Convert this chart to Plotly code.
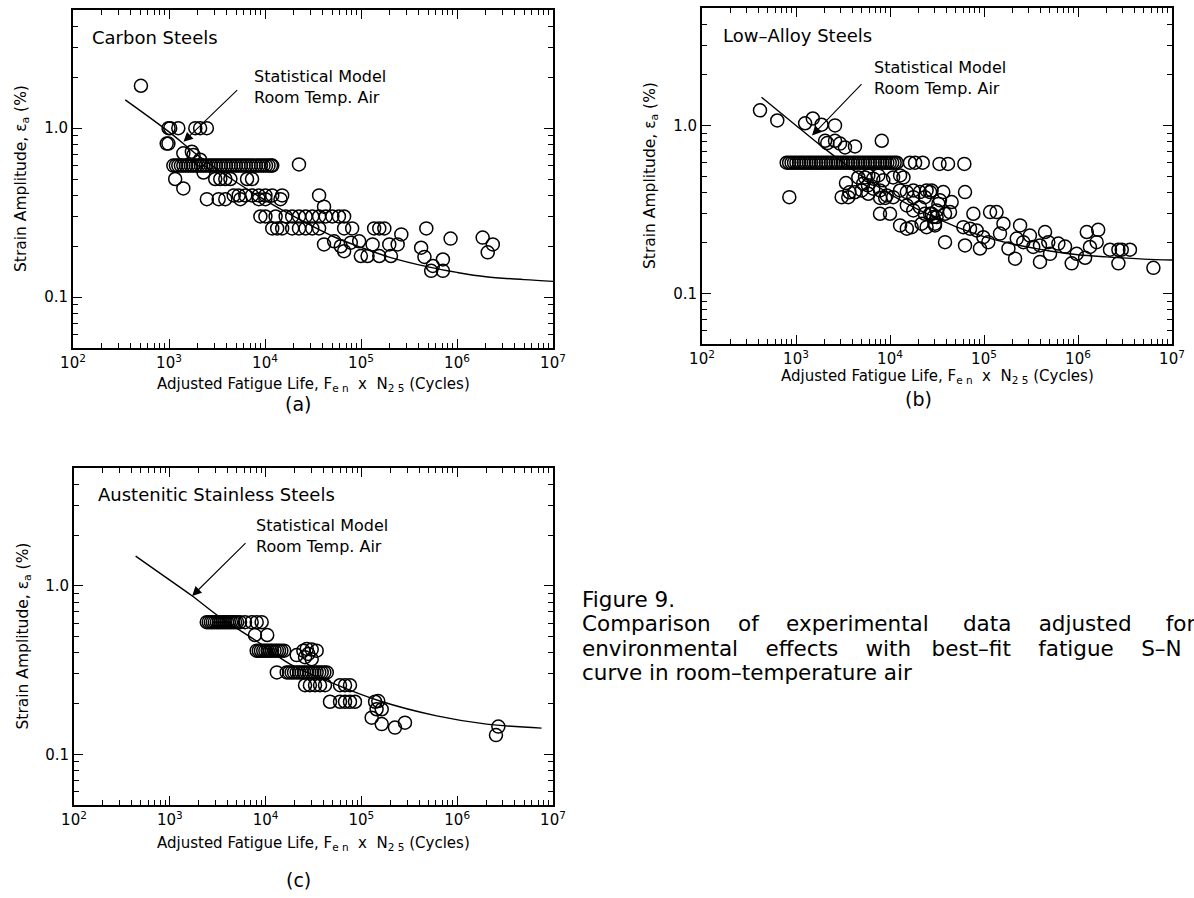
import math
import plotly.graph_objects as go

FONT = "DejaVu Sans"

# ---------------- data ----------------
# (a) Carbon steels: adjusted fatigue life (cycles) and strain amplitude (%)
carbon_N = [
    510,
    990, 1030, 1250, 1880, 2110, 2480,
    946, 986, 1410, 1730, 1800, 2110,
    1110, 1180, 1250, 1330, 1410, 1500, 1590, 1690, 1790, 1900,
    2020, 2150, 2280, 2420, 2570, 2730, 2900, 3080, 3270, 3470,
    3690, 3920, 4160, 4420, 4690, 4980, 5290, 5620, 5970, 6340,
    6730, 7150, 7590, 8060, 8560, 9090, 9650, 10250, 10880, 11550,
    11900, 22600,
    2290, 1160, 1410,
    3030, 3420, 3860, 4360, 6500, 7330,
    4720, 5320, 6240, 7330, 8610, 10100, 11900, 15100, 36600,
    2480, 3290, 3860, 5540, 8610, 10100, 14500, 41200,
    8950, 10100, 12900, 16400, 19200, 22600, 26500, 31100, 36600, 42900, 50300, 58900, 66700,
    11900, 13400, 15100, 19200, 22600, 26500, 31100, 36600, 66700, 80900, 137000, 155000, 175000, 479000,
    263000, 41200, 52500, 61600, 66700, 78300, 95700, 99700,
    117000, 132000, 155000, 197000, 205000, 241000,
    423000, 458000, 560000, 713000, 538000, 713000,
    857000, 1850000, 2360000, 2090000,
]
carbon_strain = [
    1.78,
    1.0, 1.0, 1.0, 1.0, 1.0, 1.0,
    0.81, 0.81, 0.71, 0.725, 0.694, 0.65,
    0.6, 0.6, 0.6, 0.6, 0.6, 0.6, 0.6, 0.6, 0.6, 0.6,
    0.6, 0.6, 0.6, 0.6, 0.6, 0.6, 0.6, 0.6, 0.6, 0.6,
    0.6, 0.6, 0.6, 0.6, 0.6, 0.6, 0.6, 0.6, 0.6, 0.6,
    0.6, 0.6, 0.6, 0.6, 0.6, 0.6, 0.6, 0.6, 0.6, 0.6,
    0.6, 0.61,
    0.546, 0.50, 0.44,
    0.5, 0.5, 0.5, 0.5, 0.5, 0.5,
    0.4, 0.4, 0.4, 0.4, 0.4, 0.4, 0.4, 0.4, 0.4,
    0.38, 0.38, 0.38, 0.38, 0.38, 0.38, 0.38, 0.343,
    0.3, 0.3, 0.3, 0.3, 0.3, 0.3, 0.3, 0.3, 0.3, 0.3, 0.3, 0.3, 0.3,
    0.255, 0.255, 0.255, 0.255, 0.255, 0.255, 0.255, 0.255, 0.255, 0.255, 0.255, 0.255, 0.255, 0.255,
    0.235, 0.205, 0.214, 0.20, 0.187, 0.21, 0.214, 0.175,
    0.175, 0.205, 0.175, 0.205, 0.175, 0.205,
    0.196, 0.173, 0.153, 0.167, 0.143, 0.143,
    0.222, 0.225, 0.205, 0.184,
]
carbon_curve_N = [350, 1000, 2000, 5000, 1e4, 2e4, 5e4, 1e5, 2e5, 5e5, 1e6, 2e6, 5e6, 1e7]
carbon_curve_strain = [1.47, 0.95, 0.69, 0.48, 0.375, 0.30, 0.23, 0.197, 0.172, 0.151, 0.140, 0.132, 0.127, 0.124]

# (b) Low-alloy steels
lowalloy_N = [
    414, 632, 1250, 1510, 1870, 2600,
    2040, 2150, 2600, 2940, 3320, 4240, 8170,
    796, 845, 897, 953, 1010, 1075, 1140, 1210, 1290, 1370,
    1450, 1540, 1640, 1740, 1850, 1960, 2080, 2210, 2350, 2500,
    2650, 2810, 2990, 3170, 3370, 3580, 3800, 4040, 4290, 4550,
    4830, 5130, 5450, 5790, 6150, 6530, 6930, 7360, 7820, 8300,
    8820, 9360, 9940, 10560, 11210, 11800,
    16300, 18500, 22300, 33600, 41400, 61800,
    849, 3400, 3060, 3600,
    4600, 5420, 5880, 6640, 7510, 8490, 10800, 12800, 13900,
    5000, 5880, 6640, 7830, 9230, 10800, 12800, 15100, 17700, 20800, 24500, 27700, 23500, 17700,
    3700, 4210, 5180, 5820, 7850, 8900,
    7830, 10000,
    12800, 15100, 17000, 21700, 24500, 28900, 30100,
    15100, 17700, 20800, 23500, 26700, 31400, 32700,
    26700, 36900, 34000, 45300, 62800, 27800, 31300, 38500, 43500, 30100,
    38500, 60300, 71000, 62800, 77100, 83600, 98400, 90600, 111000, 116000,
    136000, 161000, 148000, 182000, 214000, 242000, 223000, 262000, 308000, 394000,
    446000, 334000, 394000, 483000, 504000, 618000, 728000, 857000, 968000, 1190000,
    1240000, 1640000, 1580000, 1340000, 2190000, 2690000, 2920000, 3570000, 2690000, 6340000,
]
lowalloy_strain = [
    1.23, 1.07, 1.03, 1.10, 1.01, 1.0,
    0.81, 0.785, 0.81, 0.78, 0.74, 0.75, 0.81,
    0.6, 0.6, 0.6, 0.6, 0.6, 0.6, 0.6, 0.6, 0.6, 0.6,
    0.6, 0.6, 0.6, 0.6, 0.6, 0.6, 0.6, 0.6, 0.6, 0.6,
    0.6, 0.6, 0.6, 0.6, 0.6, 0.6, 0.6, 0.6, 0.6, 0.6,
    0.6, 0.6, 0.6, 0.6, 0.6, 0.6, 0.6, 0.6, 0.6, 0.6,
    0.6, 0.6, 0.6, 0.6, 0.6, 0.6,
    0.6, 0.6, 0.6, 0.59, 0.59, 0.59,
    0.374, 0.454, 0.374, 0.374,
    0.49, 0.49, 0.504, 0.482, 0.504, 0.471, 0.49, 0.504, 0.49,
    0.41, 0.392, 0.42, 0.41, 0.383, 0.374, 0.41, 0.401, 0.41, 0.401, 0.41, 0.41, 0.374, 0.374,
    0.40, 0.40, 0.45, 0.44, 0.37, 0.37,
    0.298, 0.298,
    0.254, 0.243, 0.248, 0.26, 0.248, 0.285, 0.26,
    0.334, 0.312, 0.326, 0.298, 0.298, 0.312, 0.341,
    0.401, 0.401, 0.358, 0.35, 0.401, 0.298, 0.285, 0.298, 0.305, 0.254,
    0.202, 0.248, 0.243, 0.193, 0.298, 0.237, 0.216, 0.185, 0.202, 0.305,
    0.305, 0.26, 0.227, 0.185, 0.161, 0.254, 0.212, 0.202, 0.221, 0.154,
    0.232, 0.189, 0.193, 0.202, 0.172, 0.198, 0.19, 0.151, 0.172, 0.163,
    0.232, 0.239, 0.202, 0.189, 0.182, 0.182, 0.182, 0.182, 0.151, 0.142,
]
lowalloy_curve_N = [430, 1000, 2000, 5000, 1e4, 2e4, 5e4, 1e5, 2e5, 5e5, 1e6, 2e6, 5e6, 1e7]
lowalloy_curve_strain = [1.47, 1.0, 0.73, 0.50, 0.39, 0.315, 0.25, 0.218, 0.197, 0.179, 0.170, 0.165, 0.160, 0.158]

# (c) Austenitic stainless steels
austenitic_N = [
    2430, 2550, 2680, 2810, 2950, 3100, 3250, 3410, 3580, 3760, 3950, 4150, 4350, 4570, 4800,
    5040, 5410, 6100, 7160, 8070, 9100,
    7740, 10400,
    8070, 8500, 8950, 9450, 9950, 10500, 11100, 11700, 12400, 13100, 13800, 14600, 15600,
    21100, 24800, 26900, 30300, 34100, 25800, 30300, 27900,
    13100, 16600, 17600, 18700, 19800, 21100, 22400, 23800, 25300, 26900,
    28600, 30300, 32200, 34100, 36300, 38500, 41000, 43500,
    25800, 29000, 32800, 37000, 41700, 59800, 67500, 76000,
    47000, 59800, 67500, 76000, 85700, 139000,
    150000, 144000, 163000, 128000, 163000, 224000, 285000,
    2690000, 2540000,
]
austenitic_strain = [
    0.608, 0.608, 0.608, 0.608, 0.608, 0.608, 0.608, 0.608, 0.608, 0.608, 0.608, 0.608, 0.608, 0.608, 0.608,
    0.608, 0.608, 0.608, 0.608, 0.608, 0.608,
    0.51, 0.51,
    0.412, 0.412, 0.412, 0.412, 0.412, 0.412, 0.412, 0.412, 0.412, 0.412, 0.412, 0.412, 0.412,
    0.388, 0.412, 0.422, 0.418, 0.412, 0.377, 0.367, 0.394,
    0.306, 0.306, 0.306, 0.306, 0.306, 0.306, 0.306, 0.306, 0.306, 0.306,
    0.306, 0.306, 0.306, 0.306, 0.306, 0.306, 0.306, 0.306,
    0.257, 0.257, 0.257, 0.257, 0.257, 0.257, 0.257, 0.257,
    0.205, 0.205, 0.205, 0.205, 0.205, 0.205,
    0.207, 0.185, 0.185, 0.165, 0.151, 0.144, 0.154,
    0.146, 0.130,
]
austenitic_curve_N = [440, 1000, 1690, 3340, 8400, 18000, 47000, 156000, 611000, 2030000, 7600000]
austenitic_curve_strain = [1.50, 1.08, 0.875, 0.65, 0.462, 0.343, 0.268, 0.207, 0.169, 0.151, 0.143]

assert len(carbon_N) == len(carbon_strain)
assert len(lowalloy_N) == len(lowalloy_strain)
assert len(austenitic_N) == len(austenitic_strain)

x_tick_values = [1e2, 1e3, 1e4, 1e5, 1e6, 1e7]
x_tick_labels = ["10<sup>2</sup>", "10<sup>3</sup>", "10<sup>4</sup>",
                 "10<sup>5</sup>", "10<sup>6</sup>", "10<sup>7</sup>"]
y_tick_values = [0.1, 1.0]
y_tick_labels = ["0.1", "1.0"]

# ---------------- layout helpers ----------------
W, H = 1194, 898
x_minor = [m * 10 ** d for d in range(2, 7) for m in range(2, 10)]
y_minor = [0.05, 0.06, 0.07, 0.08, 0.09, 0.2, 0.3, 0.4, 0.5, 0.6, 0.7, 0.8, 0.9, 2, 3, 4, 5]


def px_dom_x(a, b):
    return [a / W, b / W]


def px_dom_y(top, bottom):
    return [1 - bottom / H, 1 - top / H]


def base_axis(dom, anchor):
    return dict(domain=dom, anchor=anchor, type="log", automargin=False,
                ticks="inside", ticklen=9, tickwidth=1.2, tickcolor="black",
                showline=True, linecolor="black", linewidth=1.8, mirror="allticks",
                showgrid=False, zeroline=False, tickmode="array",
                tickfont=dict(family=FONT, size=15, color="black"))


def xaxis(dom, anchor):
    d = base_axis(dom, anchor)
    d.update(range=[2, 7], tickvals=x_tick_values, ticktext=x_tick_labels,
             minor=dict(tickmode="array", tickvals=x_minor, ticks="inside",
                        ticklen=5, tickwidth=1, tickcolor="black", showgrid=False))
    return d


def yaxis(dom, anchor):
    d = base_axis(dom, anchor)
    d.update(range=[math.log10(0.05), math.log10(5)],
             tickvals=y_tick_values, ticktext=y_tick_labels,
             minor=dict(tickmode="array", tickvals=y_minor, ticks="inside",
                        ticklen=5, tickwidth=1, tickcolor="black", showgrid=False))
    return d


fig = go.Figure()

panels = [
    ("x", "y", carbon_N, carbon_strain, carbon_curve_N, carbon_curve_strain),
    ("x2", "y2", lowalloy_N, lowalloy_strain, lowalloy_curve_N, lowalloy_curve_strain),
    ("x3", "y3", austenitic_N, austenitic_strain, austenitic_curve_N, austenitic_curve_strain),
]
for xa, ya, n, s, cn, cs in panels:
    fig.add_trace(go.Scatter(x=cn, y=cs, mode="lines", xaxis=xa, yaxis=ya,
                             line=dict(color="black", width=1.4, shape="spline"),
                             hoverinfo="skip", showlegend=False))
    fig.add_trace(go.Scatter(x=n, y=s, mode="markers", xaxis=xa, yaxis=ya,
                             marker=dict(symbol="circle-open", size=13, color="black",
                                         line=dict(width=1.5, color="black")),
                             hoverinfo="skip", showlegend=False))

# panel geometry in pixels
A = dict(l=73, r=553, t=10, b=348)
B = dict(l=702, r=1172, t=8, b=344)
C = dict(l=74, r=553, t=468, b=805)

fig.update_layout(
    template="none",
    width=W, height=H, margin=dict(l=0, r=0, t=0, b=0, autoexpand=False),
    paper_bgcolor="white", plot_bgcolor="white",
    xaxis=xaxis(px_dom_x(A["l"], A["r"]), "y"),
    yaxis=yaxis(px_dom_y(A["t"], A["b"]), "x"),
    xaxis2=xaxis(px_dom_x(B["l"], B["r"]), "y2"),
    yaxis2=yaxis(px_dom_y(B["t"], B["b"]), "x2"),
    xaxis3=xaxis(px_dom_x(C["l"], C["r"]), "y3"),
    yaxis3=yaxis(px_dom_y(C["t"], C["b"]), "x3"),
)

L = math.log10
ann = []


def txt(text, x, y, size, xref="paper", yref="paper", xanchor="left", yanchor="middle",
        angle=0, align="left"):
    ann.append(dict(text=text, x=x, y=y, xref=xref, yref=yref, xanchor=xanchor,
                    yanchor=yanchor, showarrow=False, textangle=angle, align=align,
                    font=dict(family=FONT, size=size, color="black")))


def arrow(xa, ya, head, tail):
    ann.append(dict(text="", x=L(head[0]), y=L(head[1]), ax=L(tail[0]), ay=L(tail[1]),
                    xref=xa, yref=ya, axref=xa, ayref=ya, showarrow=True,
                    arrowhead=2, arrowsize=1.7, arrowwidth=1.1, arrowcolor="black"))


# panel titles and model labels (placed in data units of each panel)
txt("Carbon Steels", L(150), L(3.43), 18, "x", "y")
txt("Low–Alloy Steels", L(158), L(3.44), 18, "x2", "y2")
txt("Austenitic Stainless Steels", L(170), L(3.48), 18, "x3", "y3")

model = "Statistical Model<br>Room Temp. Air"
txt(model, L(7280), L(1.74), 16, "x", "y")
txt(model, L(6440), L(1.92), 16, "x2", "y2")
txt(model, L(7570), L(1.97), 16, "x3", "y3")
arrow("x", "y", (1415, 0.83), (5320, 1.71))
arrow("x2", "y2", (1480, 0.87), (5160, 1.80))
arrow("x3", "y3", (1710, 0.87), (6400, 1.83))

# axis titles
xt = "Adjusted Fatigue Life, F<sub>e n</sub>  x  N<sub>2 5</sub> (Cycles)"
yt = "Strain Amplitude, ε<sub>a</sub> (%)"
for P, ty in ((A, 385), (B, 376), (C, 843)):
    txt(xt, (P["l"] + P["r"]) / 2 / W, 1 - ty / H, 15, xanchor="center")
    txt(yt, (P["l"] - 51) / W, 1 - (P["t"] + P["b"]) / 2 / H, 15.5,
        xanchor="center", angle=-90)

txt("(a)", 298 / W, 1 - 404 / H, 19, xanchor="center")
txt("(b)", 918 / W, 1 - 399 / H, 19, xanchor="center")
txt("(c)", 298 / W, 1 - 880 / H, 19, xanchor="center")

# caption (justified lines: extra non-breaking spaces widen the word gaps;
# the first two lines run past the right edge, as in the original)
NB = "\u00a0"
cx = 580 / W
line1 = ("Comparison" + NB * 3 + " of" + NB * 3 + " experimental" + NB * 4 + " data"
         + NB * 3 + " adjusted" + NB * 4 + " for")
line2 = ("environmental" + NB * 3 + " effects" + NB * 3 + " with" + NB * 2
         + " best–fit" + NB * 3 + " fatigue" + NB * 3 + " S–N")
CAP = 21.5
txt("Figure 9.", cx, 1 - 599 / H, CAP)
txt(line1, cx, 1 - 623.5 / H, CAP)
txt(line2, cx, 1 - 648 / H, CAP)
txt("curve in room–temperature air", cx, 1 - 672.5 / H, CAP)

fig.update_layout(annotations=ann)
fig.write_html("out.html")
